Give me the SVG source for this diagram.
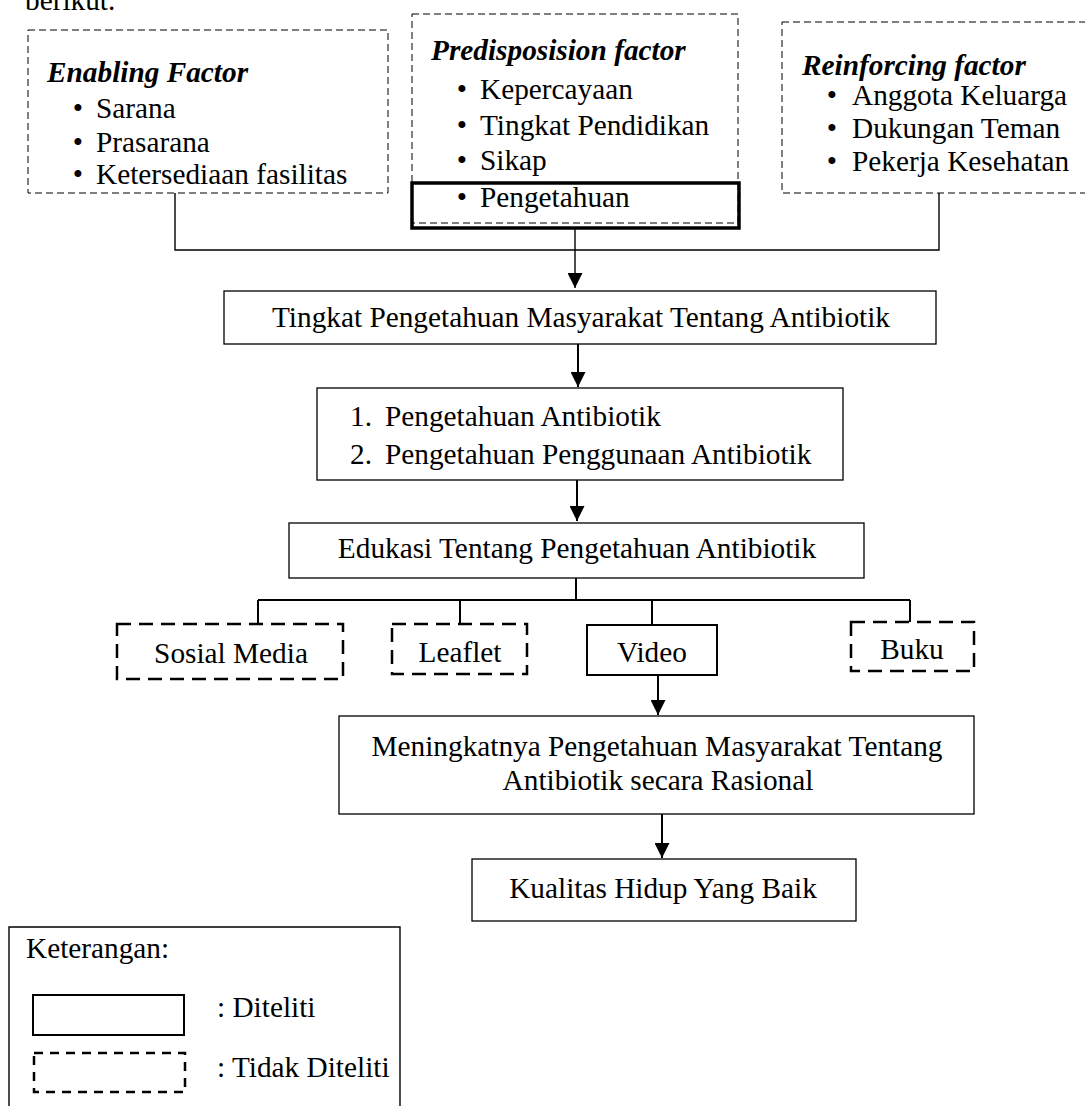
<svg xmlns="http://www.w3.org/2000/svg" width="1085" height="1106" viewBox="0 0 1085 1106">
<defs>
<style>
text{font-family:"Liberation Serif","Times New Roman",serif;font-size:29.3px;fill:#000}
.h{font-weight:bold;font-style:italic}
.c{text-anchor:middle}
.b{text-anchor:middle}
.box{fill:none;stroke:#000;stroke-width:1.3}
.dthin{fill:none;stroke:#000;stroke-width:1;stroke-dasharray:7 4}
.dthick{fill:none;stroke:#000;stroke-width:2.5;stroke-dasharray:14 8}
.dleg{fill:none;stroke:#000;stroke-width:2.5;stroke-dasharray:9 7}
.solid2{fill:none;stroke:#000;stroke-width:2}
.ln{fill:none;stroke:#000;stroke-width:1.4}
.ln2{fill:none;stroke:#000;stroke-width:2}
</style>
<marker id="ah" viewBox="0 0 10 10" refX="10" refY="5" markerWidth="15" markerHeight="15" markerUnits="userSpaceOnUse" orient="auto">
<path d="M0,0 L10,5 L0,10 z" fill="#000"/>
</marker>
</defs>
<rect width="1085" height="1106" fill="#fff"/>
<text x="25" y="10">berikut.</text>

<g id="connectors">
<path class="ln" d="M175,193 V250 H939 V193"/>
<path class="ln" d="M575,228 V288" marker-end="url(#ah)"/>
<path class="ln2" d="M578,344 V387" marker-end="url(#ah)"/>
<path class="ln2" d="M577,480 V521" marker-end="url(#ah)"/>
<path class="ln2" d="M576,578 V600 M258,600 H910 M258,600 V624 M460,600 V624 M652,600 V625 M910,600 V622"/>
<path class="ln2" d="M658,675 V715" marker-end="url(#ah)"/>
<path class="ln2" d="M662,814 V858" marker-end="url(#ah)"/>
</g>

<g id="enabling">
<rect class="dthin" x="28" y="30" width="360" height="163"/>
<text class="h" x="47" y="82">Enabling Factor</text>
<text class="b" x="78" y="118">•</text><text x="96" y="118">Sarana</text>
<text class="b" x="78" y="152">•</text><text x="96" y="152">Prasarana</text>
<text class="b" x="78" y="184">•</text><text x="96" y="184">Ketersediaan fasilitas</text>
</g>

<g id="predisposision">
<rect class="dthin" x="412" y="14" width="326" height="209"/>
<text class="h" x="431" y="60">Predisposision factor</text>
<text class="b" x="462" y="99">•</text><text x="480" y="99">Kepercayaan</text>
<text class="b" x="462" y="135">•</text><text x="480" y="135">Tingkat Pendidikan</text>
<text class="b" x="462" y="170">•</text><text x="480" y="170">Sikap</text>
</g>

<g id="pengetahuan">
<rect fill="none" stroke="#000" stroke-width="3.5" x="412" y="183" width="327" height="45"/>
<text class="b" x="462" y="207">•</text><text x="480" y="207">Pengetahuan</text>
</g>

<g id="reinforcing">
<rect class="dthin" x="782" y="22" width="320" height="171"/>
<text class="h" x="802" y="75">Reinforcing factor</text>
<text class="b" x="832" y="105">•</text><text x="852" y="105">Anggota Keluarga</text>
<text class="b" x="832" y="138">•</text><text x="852" y="138">Dukungan Teman</text>
<text class="b" x="832" y="171">•</text><text x="852" y="171">Pekerja Kesehatan</text>
</g>

<g id="tingkat">
<rect class="box" x="224" y="291" width="712" height="53"/>
<text class="c" x="581" y="327">Tingkat Pengetahuan Masyarakat Tentang Antibiotik</text>
</g>

<g id="aspek">
<rect class="box" x="317" y="388" width="526" height="92"/>
<text x="350" y="426">1.</text><text x="385" y="426">Pengetahuan Antibiotik</text>
<text x="350" y="464">2.</text><text x="385" y="464">Pengetahuan Penggunaan Antibiotik</text>
</g>

<g id="edukasi">
<rect class="box" x="289" y="523" width="575" height="55"/>
<text class="c" x="577" y="558">Edukasi Tentang Pengetahuan Antibiotik</text>
</g>

<g id="sosmed">
<rect class="dthick" x="117" y="624" width="226" height="55"/>
<text class="c" x="231" y="663">Sosial Media</text>
</g>
<g id="leaflet">
<rect class="dthick" x="392" y="624" width="135" height="50"/>
<text class="c" x="460" y="662">Leaflet</text>
</g>
<g id="video">
<rect class="solid2" x="587" y="625" width="130" height="50"/>
<text class="c" x="652" y="662">Video</text>
</g>
<g id="buku">
<rect class="dthick" x="851" y="622" width="123" height="49"/>
<text class="c" x="912" y="659">Buku</text>
</g>

<g id="meningkat">
<rect class="box" x="339" y="716" width="635" height="98"/>
<text class="c" x="657" y="756">Meningkatnya Pengetahuan Masyarakat Tentang</text>
<text class="c" x="658" y="790">Antibiotik secara Rasional</text>
</g>

<g id="kualitas">
<rect class="box" x="472" y="859" width="384" height="62"/>
<text class="c" x="663" y="898">Kualitas Hidup Yang Baik</text>
</g>

<g id="legend">
<path class="ln" d="M9,1106 V927 H400 V1106"/>
<text x="26" y="958">Keterangan:</text>
<rect class="solid2" x="33" y="995" width="151" height="40"/>
<text x="217" y="1017">: Diteliti</text>
<rect class="dleg" x="34" y="1053" width="151" height="39"/>
<text x="217" y="1077">: Tidak Diteliti</text>
</g>
</svg>
